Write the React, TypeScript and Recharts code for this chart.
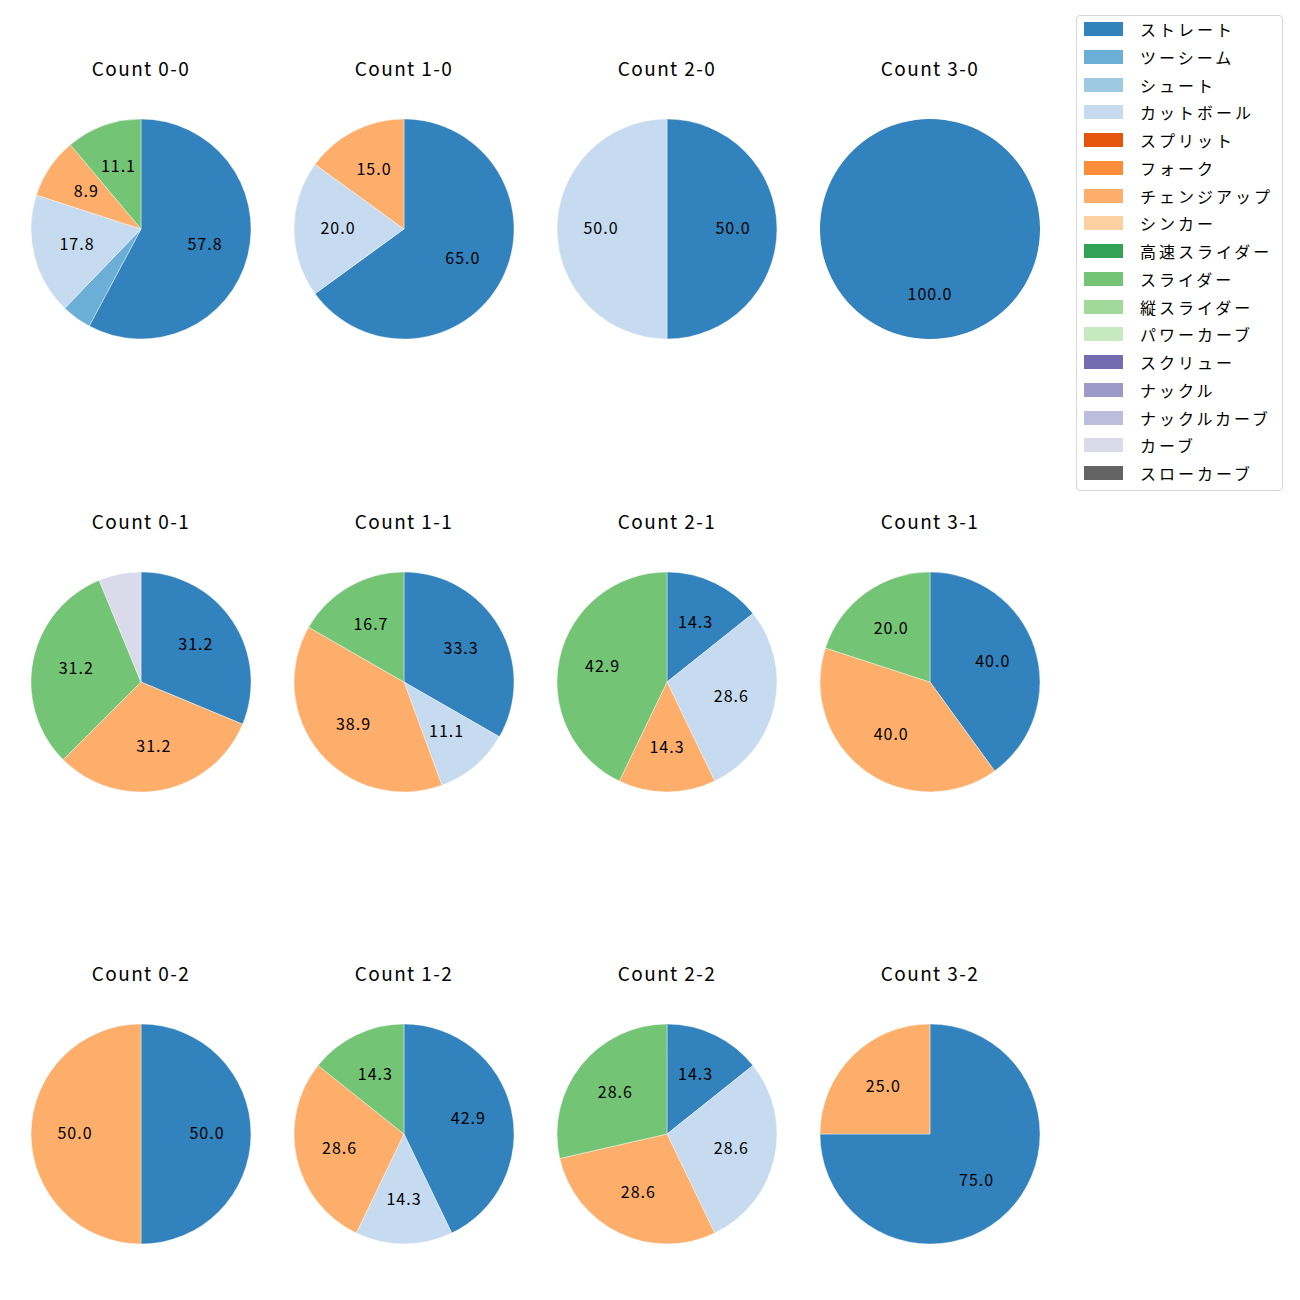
import React from 'react';
import { PieChart, Pie, Cell } from 'recharts';

const FONT = '"Noto Sans CJK JP", "DejaVu Sans", sans-serif';

const pitchTypes = [
  'ストレート', 'ツーシーム', 'シュート', 'カットボール', 'スプリット', 'フォーク',
  'チェンジアップ', 'シンカー', '高速スライダー', 'スライダー', '縦スライダー',
  'パワーカーブ', 'スクリュー', 'ナックル', 'ナックルカーブ', 'カーブ', 'スローカーブ',
];

// tab20c-like palette
const pitchColors = [
  '#3182bd', '#6baed6', '#9ecae1', '#c6dbef', '#e6550d', '#fd8d3c',
  '#fdae6b', '#fdd0a2', '#31a354', '#74c476', '#a1d99b', '#c7e9c0',
  '#756bb1', '#9e9ac8', '#bcbddc', '#dadaeb', '#636363',
];

// percentages per pitch type (same order as pitchTypes)
const count00 = [57.8, 4.4, 0, 17.8, 0, 0, 8.9, 0, 0, 11.1, 0, 0, 0, 0, 0, 0, 0];
const count10 = [65.0, 0, 0, 20.0, 0, 0, 15.0, 0, 0, 0, 0, 0, 0, 0, 0, 0, 0];
const count20 = [50.0, 0, 0, 50.0, 0, 0, 0, 0, 0, 0, 0, 0, 0, 0, 0, 0, 0];
const count30 = [100.0, 0, 0, 0, 0, 0, 0, 0, 0, 0, 0, 0, 0, 0, 0, 0, 0];
const count01 = [31.2, 0, 0, 0, 0, 0, 31.2, 0, 0, 31.2, 0, 0, 0, 0, 0, 6.2, 0];
const count11 = [33.3, 0, 0, 11.1, 0, 0, 38.9, 0, 0, 16.7, 0, 0, 0, 0, 0, 0, 0];
const count21 = [14.3, 0, 0, 28.6, 0, 0, 14.3, 0, 0, 42.9, 0, 0, 0, 0, 0, 0, 0];
const count31 = [40.0, 0, 0, 0, 0, 0, 40.0, 0, 0, 20.0, 0, 0, 0, 0, 0, 0, 0];
const count02 = [50.0, 0, 0, 0, 0, 0, 50.0, 0, 0, 0, 0, 0, 0, 0, 0, 0, 0];
const count12 = [42.9, 0, 0, 14.3, 0, 0, 28.6, 0, 0, 14.3, 0, 0, 0, 0, 0, 0, 0];
const count22 = [14.3, 0, 0, 28.6, 0, 0, 28.6, 0, 0, 28.6, 0, 0, 0, 0, 0, 0, 0];
const count32 = [75.0, 0, 0, 0, 0, 0, 25.0, 0, 0, 0, 0, 0, 0, 0, 0, 0, 0];

const countTitles = [
  'Count 0-0', 'Count 1-0', 'Count 2-0', 'Count 3-0',
  'Count 0-1', 'Count 1-1', 'Count 2-1', 'Count 3-1',
  'Count 0-2', 'Count 1-2', 'Count 2-2', 'Count 3-2',
];
const countValues = [
  count00, count10, count20, count30,
  count01, count11, count21, count31,
  count02, count12, count22, count32,
];

const colCenters = [141, 404, 667, 930];
const rowCenters = [229, 682, 1134];
const R = 110;
const BOX = 240;
const RAD = Math.PI / 180;

const renderLabel = (props: any) => {
  const { cx, cy, midAngle, outerRadius, value, percent } = props;
  if (percent < 0.07) return null;
  const r = outerRadius * 0.6;
  const x = cx + r * Math.cos(-midAngle * RAD);
  const y = cy + r * Math.sin(-midAngle * RAD) - 2;
  return (
    <text x={x} y={y} textAnchor="middle" dominantBaseline="central"
      fill="#000" fontSize={16} fontFamily={FONT} letterSpacing={1}>
      {value.toFixed(1)}
    </text>
  );
};

const CountPie: React.FC<{ title: string; values: number[]; cx: number; cy: number }> = ({ title, values, cx, cy }) => {
  const data = values
    .map((v, i) => ({ name: pitchTypes[i], value: v, color: pitchColors[i] }))
    .filter((d) => d.value > 0);
  return (
    <>
      <div style={{
        position: 'absolute', left: cx - 100, top: cy - 173, width: 200,
        textAlign: 'center', fontSize: 19, fontFamily: FONT, color: '#000',
        lineHeight: '24px', letterSpacing: 1.4,
      }}>{title}</div>
      <div style={{ position: 'absolute', left: cx - BOX / 2, top: cy - BOX / 2 }}>
        <PieChart width={BOX} height={BOX} margin={{ top: 0, right: 0, bottom: 0, left: 0 }}>
          <Pie
            data={data}
            dataKey="value"
            cx={BOX / 2}
            cy={BOX / 2}
            outerRadius={R}
            startAngle={90}
            endAngle={-270}
            label={renderLabel}
            labelLine={false}
            isAnimationActive={false}
          >
            {data.map((d, i) => (
              <Cell key={`c-${i}`} fill={d.color}
                stroke={data.length > 1 ? '#fff' : 'none'} strokeWidth={0.4} />
            ))}
          </Pie>
        </PieChart>
      </div>
    </>
  );
};

const LegendBox: React.FC = () => (
  <div style={{
    position: 'absolute', left: 1076, top: 15, width: 207, height: 476,
    border: '1px solid #d6d6d6', borderRadius: 4, background: '#fff', boxSizing: 'border-box',
  }}>
    {pitchTypes.map((p, i) => (
      <div key={p} style={{ position: 'absolute', left: 7, top: 6 + i * 27.75, height: 14, display: 'flex', alignItems: 'center' }}>
        <div style={{ width: 39, height: 14, background: pitchColors[i] }} />
        <span style={{ marginLeft: 17, fontSize: 16, fontFamily: FONT, color: '#000', whiteSpace: 'nowrap', letterSpacing: 3 }}>{p}</span>
      </div>
    ))}
  </div>
);

const App: React.FC = () => (
  <div style={{ position: 'absolute', left: 0, top: 0, width: 1300, height: 1300, background: '#fff', overflow: 'hidden' }}>
    {countTitles.map((t, i) => (
      <CountPie key={t} title={t} values={countValues[i]}
        cx={colCenters[i % 4]} cy={rowCenters[Math.floor(i / 4)]} />
    ))}
    <LegendBox />
  </div>
);

export default App;
